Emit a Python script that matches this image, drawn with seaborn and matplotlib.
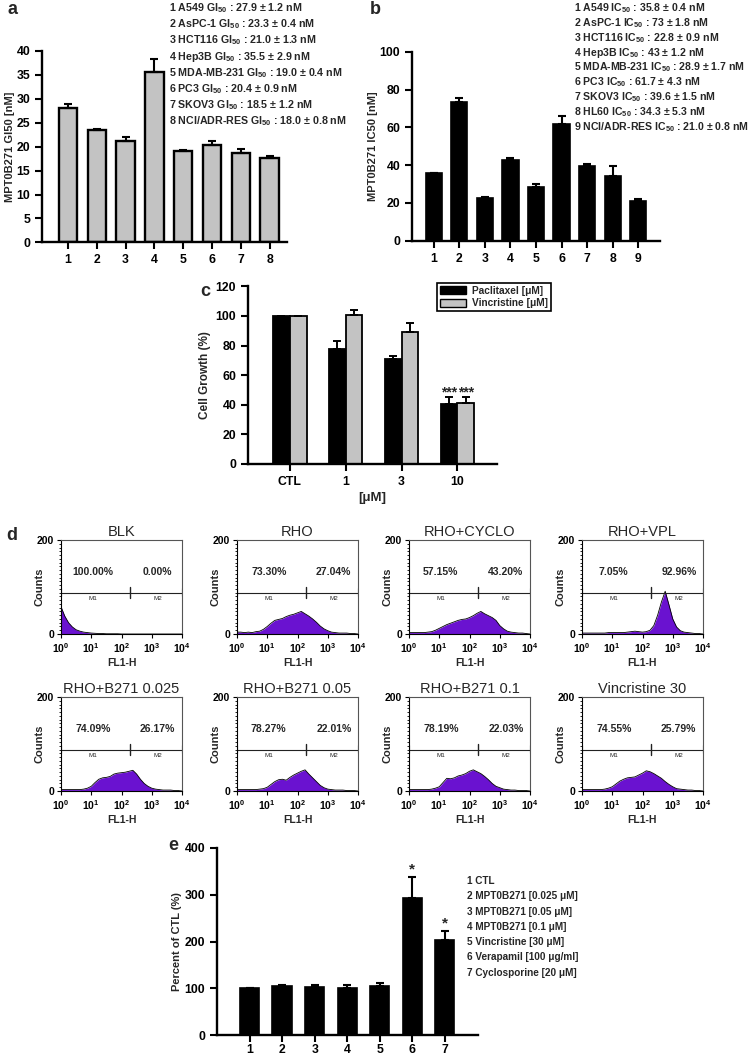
import matplotlib
matplotlib.use('Agg')
import matplotlib.pyplot as plt
from matplotlib.patches import Patch
from matplotlib.ticker import MultipleLocator, FixedLocator, LogLocator, NullFormatter
import numpy as np
import pandas as pd
import seaborn as sns

# ---- panel a : GI50 per cell line
a_lines = ['1', '2', '3', '4', '5', '6', '7', '8']
a_gi50 = [28.0, 23.4, 21.1, 35.7, 19.1, 20.4, 18.7, 17.6]
a_err = [0.95, 0.25, 0.9, 2.7, 0.2, 0.8, 0.9, 0.4]
a_names = ['1 A549', '2 AsPC-1', '3 HCT116', '4 Hep3B', '5 MDA-MB-231', '6 PC3',
           '7 SKOV3', '8 NCI/ADR-RES']
a_stats = ['27.9 ± 1.2', '23.3 ± 0.4', '21.0 ± 1.3', '35.5 ± 2.9', '19.0 ± 0.4',
           '20.4 ± 0.9', '18.5 ± 1.2', '18.0 ± 0.8']

# ---- panel b : IC50 per cell line
b_lines = ['1', '2', '3', '4', '5', '6', '7', '8', '9']
b_ic50 = [35.6, 73.5, 22.4, 42.5, 28.4, 61.7, 39.4, 34.2, 21.2]
b_err = [0.4, 1.8, 0.9, 1.2, 1.6, 4.3, 1.4, 5.3, 0.8]
b_names = ['1 A549', '2 AsPC-1', '3 HCT116', '4 Hep3B', '5 MDA-MB-231', '6 PC3',
           '7 SKOV3', '8 HL60', '9 NCI/ADR-RES']
b_stats = ['35.8 ± 0.4', '73 ± 1.8', '22.8 ± 0.9', '43 ± 1.2', '28.9 ± 1.7',
           '61.7 ± 4.3', '39.6 ± 1.5', '34.3 ± 5.3', '21.0 ± 0.8']

# ---- panel c : cell growth
c_doses = ['CTL', '1', '3', '10']
c_pacli = [100, 77.6, 71.0, 40.4]
c_pacli_err = [0, 5.4, 1.8, 4.5]
c_vinc = [100, 100.5, 89.3, 40.8]
c_vinc_err = [0, 3.2, 5.6, 4.1]
c_stars = ['', '', '', '***']

# ---- panel d : flow cytometry histograms (counts vs log10 FL1-H)
d_titles = ['BLK', 'RHO', 'RHO+CYCLO', 'RHO+VPL',
            'RHO+B271 0.025', 'RHO+B271 0.05', 'RHO+B271 0.1', 'Vincristine 30']
d_m1 = ['100.00%', '73.30%', '57.15%', '7.05%', '74.09%', '78.27%', '78.19%', '74.55%']
d_m2 = ['0.00%', '27.04%', '43.20%', '92.96%', '26.17%', '22.01%', '22.03%', '25.79%']
d_gate = 190
d_decade = [0.0, 0.125, 0.25, 0.375, 0.5, 0.625, 0.75, 0.875, 1.0, 1.125, 1.25, 1.375,
            1.5, 1.625, 1.75, 1.875, 2.0, 2.125, 2.25, 2.375, 2.5, 2.625, 2.75, 2.875,
            3.0, 3.125, 3.25, 3.375, 3.5, 3.625, 3.75, 3.875, 4.0]
hist_blk = [58, 38, 24, 15, 9, 6, 4, 3, 2, 1.5, 1, 1, 0.5, 0.5, 0.5, 0.5,
            0, 0, 0, 0, 0, 0, 0, 0, 0, 0, 0, 0, 0, 0, 0, 0, 0]
hist_rho = [4, 4, 3, 4, 3, 5, 6, 10, 16, 23, 29, 31, 33, 37, 40, 42,
            45, 48, 43, 38, 32, 25, 17, 11, 7, 4, 3, 2, 2, 2, 1, 1, 0]
hist_cyclo = [3, 3, 3, 3, 3, 4, 5, 8, 12, 16, 20, 23, 26, 29, 31, 32,
              35, 39, 44, 48, 43, 39, 35, 29, 18, 11, 6, 4, 3, 2, 2, 1, 0]
hist_vpl = [2, 2, 2, 2, 2, 2, 2, 3, 3, 3, 3, 3, 4, 5, 6, 5,
            4, 5, 8, 18, 40, 68, 91, 62, 32, 15, 7, 4, 3, 2, 1, 1, 0]
hist_b025 = [3, 3, 3, 3, 3, 3, 4, 6, 10, 18, 25, 28, 29, 31, 36, 38,
             39, 40, 42, 44, 36, 25, 16, 10, 6, 4, 3, 2, 2, 2, 1, 1, 0]
hist_b05 = [3, 3, 3, 3, 3, 3, 4, 5, 8, 14, 20, 24, 25, 23, 29, 34,
            38, 42, 45, 36, 28, 20, 12, 7, 4, 3, 2, 2, 2, 1, 1, 1, 0]
hist_b10 = [3, 3, 3, 3, 3, 3, 4, 6, 9, 18, 27, 26, 28, 32, 34, 37,
            42, 45, 41, 37, 31, 24, 16, 10, 7, 4, 3, 2, 2, 1, 1, 1, 0]
hist_vin = [3, 3, 3, 3, 3, 3, 4, 6, 9, 15, 21, 25, 28, 29, 30, 34,
            38, 43, 41, 37, 32, 27, 20, 14, 9, 5, 4, 3, 2, 2, 1, 1, 0]
d_hists = [hist_blk, hist_rho, hist_cyclo, hist_vpl, hist_b025, hist_b05, hist_b10, hist_vin]

# ---- panel e : rhodamine accumulation
e_groups = ['1', '2', '3', '4', '5', '6', '7']
e_values = [100, 103.8, 103, 101, 105, 292.8, 202.5]
e_err = [0, 4.2, 5, 5, 6, 46, 20]
e_stars = ['', '', '', '', '', '*', '*']
e_names = ['1 CTL', '2 MPT0B271 [0.025 μM]', '3 MPT0B271 [0.05 μM]', '4 MPT0B271 [0.1 μM]',
           '5 Vincristine [30 μM]', '6 Verapamil [100 μg/ml]', '7 Cyclosporine [20 μM]']

GREY = '#c3c3c3'
PURPLE = '#6a12d0'
W, H = 754, 1056

sns.set_theme(style='ticks')
plt.rcParams['font.family'] = ['Liberation Sans', 'DejaVu Sans']
plt.rcParams['font.weight'] = 'bold'
plt.rcParams['axes.labelweight'] = 'bold'
plt.rcParams['mathtext.fontset'] = 'custom'
plt.rcParams['mathtext.rm'] = 'Liberation Sans:bold'
plt.rcParams['mathtext.it'] = 'Liberation Sans:bold'
plt.rcParams['mathtext.bf'] = 'Liberation Sans:bold'

fig = plt.figure(figsize=(W / 100, H / 100), dpi=100)


def box(x0, y0, x1, y1):
    # pixel box (top-left origin) -> figure fraction rect
    return [x0 / W, 1 - y1 / H, (x1 - x0) / W, (y1 - y0) / H]


def ftext(x, y, s, **kw):
    fig.text(x / W, 1 - y / H, s, **kw)


def style_bar_axes(ax, ticksize=8.8):
    sns.despine(ax=ax)
    for sp in ['left', 'bottom']:
        ax.spines[sp].set_linewidth(1.7)
        ax.spines[sp].set_color('black')
    ax.tick_params(direction='out', length=5, width=1.5, labelsize=ticksize, colors='black')
    ax.set_xlabel('')


def up_errors(ax, bars, vals, errs, lw=1.5, cap=3):
    xs = [b.get_x() + b.get_width() / 2 for b in bars]
    ax.errorbar(xs, vals, yerr=[np.zeros(len(vals)), errs], fmt='none', ecolor='black',
                elinewidth=lw, capsize=cap, capthick=lw, zorder=1)
    return xs


# ---------------- a
ax = fig.add_axes(box(42, 51, 287, 242.4))
sns.barplot(x=a_lines, y=a_gi50, color=GREY, saturation=1, edgecolor='black',
            linewidth=1.7, width=0.64, errorbar=None, ax=ax)
up_errors(ax, ax.patches, a_gi50, a_err)
ax.set_ylim(0, 40)
ax.set_yticks(range(0, 41, 5))
ax.set_xlim(-0.9, 7.6)
style_bar_axes(ax)
ax.set_ylabel('MPT0B271 GI50 [nM]', fontsize=8, labelpad=1)
for i, (n, s) in enumerate(zip(a_names, a_stats)):
    ftext(169, 8 + 16.2 * i, n + ' GI$_{50}$ : ' + s + ' nM', fontsize=7.7, va='center')

# ---------------- b
ax = fig.add_axes(box(412, 51.7, 660, 240.7))
sns.barplot(x=b_lines, y=b_ic50, color='black', saturation=1, edgecolor='black',
            linewidth=1.2, width=0.63, errorbar=None, ax=ax)
up_errors(ax, ax.patches, b_ic50, b_err)
ax.set_ylim(0, 100)
ax.set_yticks(range(0, 101, 20))
ax.set_xlim(-0.86, 8.86)
style_bar_axes(ax)
ax.set_ylabel('MPT0B271 IC50 [nM]', fontsize=8, labelpad=1)
for i, (n, s) in enumerate(zip(b_names, b_stats)):
    ftext(574, 8 + 14.9 * i, n + ' IC$_{50}$ : ' + s + ' nM', fontsize=7.6, va='center')

# ---------------- c
ax = fig.add_axes(box(248, 286.4, 497, 463.7))
df_c = pd.DataFrame({'dose': c_doses * 2,
                     'growth': c_pacli + c_vinc,
                     'drug': ['Paclitaxel [μM]'] * 4 + ['Vincristine [μM]'] * 4})
sns.barplot(data=df_c, x='dose', y='growth', hue='drug', palette=['black', GREY],
            saturation=1, edgecolor='black', linewidth=1.3, width=0.6, errorbar=None,
            legend=False, ax=ax)
for cont, vals, errs in zip(ax.containers, [c_pacli, c_vinc], [c_pacli_err, c_vinc_err]):
    xs = up_errors(ax, cont, vals, errs, lw=1.4, cap=3)
    for x, v, e, st in zip(xs, vals, errs, c_stars):
        if st:
            ax.text(x, v + e + 3.5, st, ha='center', va='center', fontsize=10)
ax.set_ylim(0, 120)
ax.set_yticks(range(0, 121, 20))
ax.set_xlim(-0.75, 3.71)
style_bar_axes(ax)
ax.set_ylabel('Cell Growth (%)', fontsize=8.5, labelpad=3)
ax.set_xlabel('[μM]', fontsize=9.5, labelpad=3)
ax.legend(handles=[Patch(facecolor='black', edgecolor='black', label='Paclitaxel [μM]'),
                   Patch(facecolor=GREY, edgecolor='black', label='Vincristine [μM]')],
          loc='upper left', bbox_to_anchor=(0.76, 1.02), borderaxespad=0, fontsize=7.3,
          frameon=True, fancybox=False, edgecolor='black', framealpha=1, handlelength=2.5,
          handleheight=0.8, borderpad=0.3, labelspacing=0.25, handletextpad=0.6)
ax.get_legend().get_frame().set_linewidth(1.2)

# ---------------- d
d_lefts = [61, 237, 409, 582]
d_tops = [540, 697]
xs_log = [10 ** v for v in d_decade]
for k, (title, counts) in enumerate(zip(d_titles, d_hists)):
    r, c = divmod(k, 4)
    x0, y0 = d_lefts[c], d_tops[r]
    ax = fig.add_axes(box(x0, y0, x0 + 121, y0 + 94))
    ax.set_xscale('log')
    ax.fill_between(xs_log, counts, 0, color=PURPLE, lw=0)
    sns.lineplot(x=xs_log, y=counts, color='black', lw=0.6, ax=ax)
    ax.set_xlim(1, 1e4)
    ax.set_ylim(0, 200)
    ax.xaxis.set_major_locator(FixedLocator([1, 10, 100, 1000, 10000]))
    ax.set_xticklabels(['$10^{0}$', '$10^{1}$', '$10^{2}$', '$10^{3}$', '$10^{4}$'])
    ax.xaxis.set_minor_locator(LogLocator(base=10, subs=range(2, 10)))
    ax.xaxis.set_minor_formatter(NullFormatter())
    ax.set_yticks([0, 200])
    ax.yaxis.set_minor_locator(MultipleLocator(8))
    ax.tick_params(which='major', direction='out', length=3, width=0.8, labelsize=7.5,
                   colors='black', pad=2)
    ax.tick_params(which='minor', direction='out', length=1.5, width=0.6, colors='black')
    for sp in ax.spines.values():
        sp.set_linewidth(0.8)
        sp.set_color('black')
    ax.spines['top'].set_color('#555555')
    ax.spines['right'].set_color('#555555')
    ax.set_title(title, fontsize=10.5, fontweight='normal', pad=3)
    ax.set_xlabel('FL1-H', fontsize=7.5, labelpad=2)
    ax.set_ylabel('Counts', fontsize=8)
    ax.yaxis.set_label_coords(-0.135, 0.5)
    # M1 / M2 marker bar
    ax.plot([1, 1e4], [88, 88], color='#222222', lw=0.8)
    ax.plot([d_gate, d_gate], [76, 101], color='#222222', lw=1.0)
    ax.plot([1.03, 1.03], [80, 97], color='#222222', lw=0.8)
    ax.plot([0.97e4, 0.97e4], [80, 97], color='#222222', lw=0.8)
    ax.text(10 ** 1.05, 80, 'M1', fontsize=4.5, fontweight='normal', ha='center', va='top')
    ax.text(10 ** 3.2, 80, 'M2', fontsize=4.5, fontweight='normal', ha='center', va='top')
    ax.text(10 ** 1.05, 132, d_m1[k], fontsize=7.5, ha='center', va='center')
    ax.text(10 ** 3.2, 132, d_m2[k], fontsize=7.5, ha='center', va='center')

# ---------------- e
ax = fig.add_axes(box(217, 848, 478, 1035))
sns.barplot(x=e_groups, y=e_values, color='black', saturation=1, edgecolor='black',
            linewidth=1.2, width=0.59, errorbar=None, ax=ax)
xs = up_errors(ax, ax.patches, e_values, e_err)
for x, v, e, st in zip(xs, e_values, e_err, e_stars):
    if st:
        ax.text(x, v + e + 16, st, ha='center', va='center', fontsize=11)
ax.set_ylim(0, 400)
ax.set_yticks(range(0, 401, 100))
ax.set_xlim(-1, 7.02)
style_bar_axes(ax)
ax.tick_params(axis='x', pad=1.5)
ax.set_ylabel('Percent of CTL (%)', fontsize=8, labelpad=2)
for i, n in enumerate(e_names):
    ftext(467, 881 + 15.3 * i, n, fontsize=7.2, va='center')

# panel letters
for lab, (x, y) in zip('abcde', [(8, 10), (370, 10), (200, 292), (6, 536), (168, 846)]):
    ftext(x, y, lab, fontsize=13, va='center', ha='left')

fig.savefig('out.png', dpi=100)
